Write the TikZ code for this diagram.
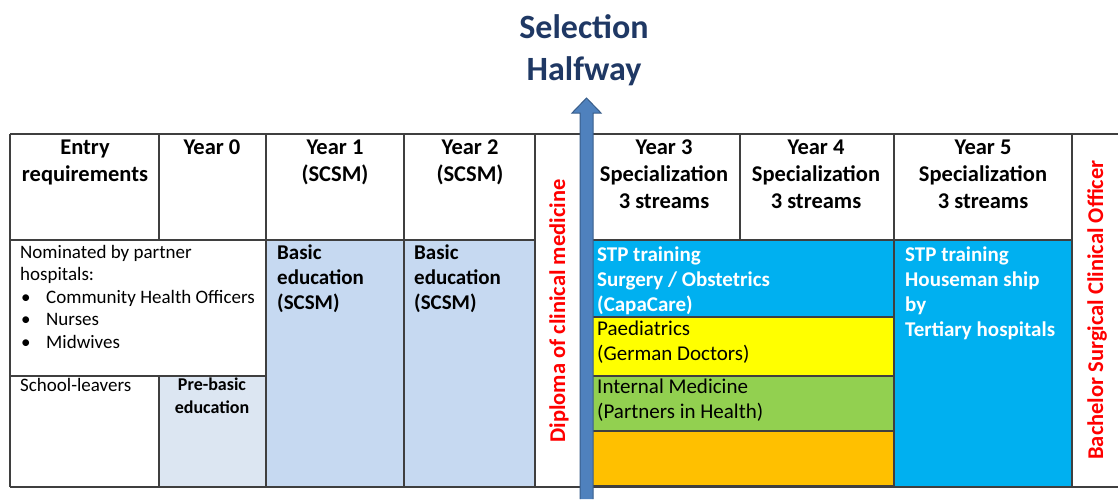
\documentclass[tikz,border=0pt]{standalone}
\usepackage{fontspec}
\setmainfont{Carlito}
\definecolor{gridline}{HTML}{3F3F3F}
\definecolor{prebasic}{HTML}{DCE6F2}
\definecolor{basic}{HTML}{C6D9F1}
\definecolor{stpblue}{HTML}{00B0F0}
\definecolor{paedyellow}{HTML}{FFFF00}
\definecolor{medgreen}{HTML}{92D050}
\definecolor{emptyorange}{HTML}{FFC000}
\definecolor{arrowfill}{HTML}{4F81BD}
\definecolor{arrowline}{HTML}{385D8A}
\definecolor{titleblue}{HTML}{1F3864}
\definecolor{awardred}{HTML}{FF0000}
\tikzset{
  grid/.style={draw=gridline, line width=1.2pt},
  head/.style={inner sep=0pt, anchor=north, align=center, font=\fontsize{22.5}{27}\selectfont\bfseries},
  bodytext/.style={inner sep=0pt, anchor=north west, align=left, font=\fontsize{19}{22.5}\selectfont},
  streamtext/.style={inner sep=0pt, anchor=north west, align=left, font=\fontsize{21}{24.5}\selectfont},
  celltext/.style={inner sep=0pt, anchor=north west, align=left, font=\fontsize{21}{25}\selectfont\bfseries},
  award/.style={inner sep=0pt, rotate=90, text=awardred, font=\fontsize{22.5}{24}\selectfont\bfseries}
}
\newcommand{\bul}{\hspace*{1pt}\makebox[25pt][l]{\textbullet}}
\begin{document}
\begin{tikzpicture}[x=1pt, y=-1pt]
	\useasboundingbox (0, 0) rectangle (1118, 499);

	% cell fills
	\fill[prebasic](159, 376) rectangle (266, 487);
	\fill[basic](266, 240) rectangle (404, 487);
	\fill[basic](404, 240) rectangle (535, 487);
	\fill[stpblue](593, 240) rectangle (894, 317);
	\fill[paedyellow](593, 317) rectangle (894, 376);
	\fill[medgreen](593, 376) rectangle (894, 431);
	\fill[emptyorange](593, 431) rectangle (894, 486);
	\fill[stpblue](894, 240) rectangle (1072, 487);

	% table lines
	\draw[grid](10, 134) to (1118, 134);
	\draw[grid](10, 487) to (1118, 487);
	\draw[grid](10, 240) to (535, 240);
	\draw[grid](593, 240) to (1072, 240);
	\draw[grid](10, 376) to (266, 376);
		\draw[grid](593, 317) to (894, 317);
		\draw[grid](593, 376) to (894, 376);
		\draw[grid](593, 431) to (894, 431);
		\draw[grid](593, 486) to (894, 486);
	\draw[grid](10, 134) to (10, 487);
	\draw[grid](159, 134) to (159, 240);
	\draw[grid](159, 376) to (159, 487);
	\draw[grid](266, 134) to (266, 487);
	\draw[grid](404, 134) to (404, 487);
	\draw[grid](535, 134) to (535, 487);
	\draw[grid](740, 134) to (740, 240);
	\draw[grid](894, 134) to (894, 487);
	\draw[grid](1072, 134) to (1072, 487);

	% header row
	\node[head] (entry) at(85, 140){Entry\\requirements};
	\node[head] (yr0) at(212, 140){Year 0};
	\node[head] (yr1) at(335, 140){Year 1\\(SCSM)};
	\node[head] (yr2) at(470, 140){Year 2\\(SCSM)};
	\node[head] (yr3) at(664, 140){Year 3\\Specialization\\3 streams};
	\node[head] (yr4) at(816, 140){Year 4\\Specialization\\3 streams};
	\node[head] (yr5) at(983, 140){Year 5\\Specialization\\3 streams};

	% entry requirements
	\node[bodytext] (nominated) at(20, 245){Nominated by partner\\hospitals:};
	\node[bodytext] (bullets) at(20, 290){\bul Community Health Officers\\\bul Nurses\\\bul Midwives};
	\node[bodytext] (leavers) at(20, 378){School-leavers};
	\node[inner sep=0pt, anchor=north, align=center, font=\fontsize{18}{22.5}\selectfont\bfseries] (prebasictext) at(212, 378){Pre-basic\\education};

	% basic education
	\node[celltext] (basic1) at(277, 245){Basic\\education\\(SCSM)};
	\node[celltext] (basic2) at(414, 245){Basic\\education\\(SCSM)};

	% specialization streams
	\node[celltext, text=white] (surgery) at(597, 247){STP training\\Surgery / Obstetrics\\(CapaCare)};
	\node[streamtext] (paed) at(597, 321){Paediatrics\\(German Doctors)};
	\node[streamtext] (internal) at(597, 379){Internal Medicine\\(Partners in Health)};
	\node[celltext, text=white] (houseman) at(905, 247){STP training\\Houseman ship\\by\\Tertiary hospitals};

	% awards
	\node[award] (diploma) at(559, 311){Diploma of clinical medicine};
	\node[award] (bachelor) at(1097, 310){Bachelor Surgical Clinical Officer};

	% selection arrow
	\draw[fill=arrowfill, draw=arrowline, line width=1pt](580, 499) -- (580, 113) -- (572, 113) -- (586.5, 98) -- (601, 113) -- (593, 113) -- (593, 499);
	\node[inner sep=0pt, align=center, text=titleblue, font=\fontsize{34}{42}\selectfont\bfseries] (selection) at(584, 50){Selection\\Halfway};

\end{tikzpicture}
\end{document}
